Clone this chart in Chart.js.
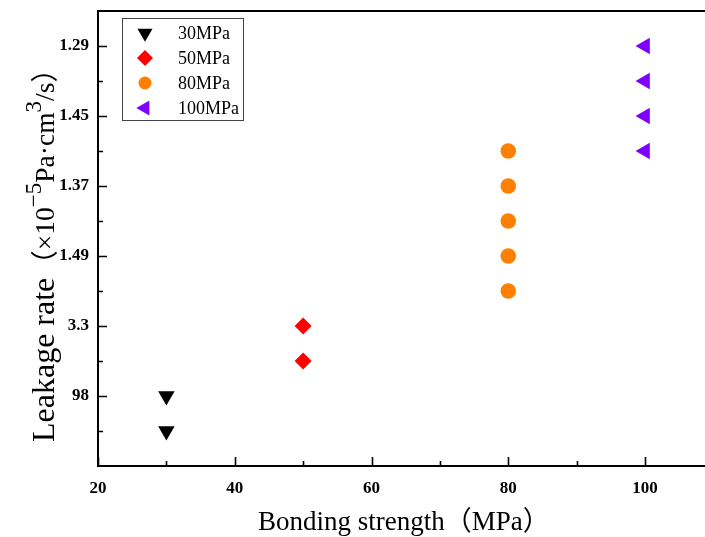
<!DOCTYPE html>
<html>
<head>
<meta charset="utf-8">
<script src="https://cdn.jsdelivr.net/npm/chart.js@4.4.1/dist/chart.umd.min.js"></script>
<style>
html,body{margin:0;padding:0;background:#fff;overflow:hidden;}
#wrap{width:705px;height:537px;position:relative;}
canvas{display:block;}
</style>
</head>
<body>
<div id="wrap"><canvas id="c" width="705" height="537"></canvas></div>
<script>
// ---- data ----
const seriesNames = ['30MPa', '50MPa', '80MPa', '100MPa'];
const strength30 = [30, 30];
const leak30 = [1.0, 0.5];
const strength50 = [50, 50];
const leak50 = [2.0, 1.5];
const strength80 = [80, 80, 80, 80, 80];
const leak80 = [4.5, 4.0, 3.5, 3.0, 2.5];
const strength100 = [100, 100, 100, 100];
const leak100 = [6.0, 5.5, 5.0, 4.5];
const xTickValues = [20, 40, 60, 80, 100];
const xMinorTicks = [30, 50, 70, 90];
const yTickValues = [1, 2, 3, 4, 5, 6];
const yTickLabels = ['98', '3.3', '1.49', '1.37', '1.45', '1.29'];
const yMinorTicks = [0.5, 1.5, 2.5, 3.5, 4.5, 5.5];

const colors = ['#000000', '#ff0000', '#ff8000', '#8000ff'];
const styles = [
  {pointStyle: 'triangle', rotation: 180, radius: 9.5, legendRadius: 8.7},
  {pointStyle: 'rectRot', rotation: 0, radius: 8.5, legendRadius: 8},
  {pointStyle: 'circle', rotation: 0, radius: 7.8, legendRadius: 6.5},
  {pointStyle: 'triangle', rotation: 270, radius: 9.5, legendRadius: 8.7}
];
const xs = [strength30, strength50, strength80, strength100];
const ys = [leak30, leak50, leak80, leak100];

const SERIF = "'Liberation Serif', 'Times New Roman', 'Noto Sans CJK SC', serif";

const datasets = seriesNames.map((name, i) => ({
  label: name,
  data: xs[i].map((x, j) => ({x: x, y: ys[i][j]})),
  showLine: false,
  pointStyle: styles[i].pointStyle,
  rotation: styles[i].rotation,
  pointRadius: styles[i].radius,
  pointHoverRadius: styles[i].radius,
  backgroundColor: colors[i],
  borderColor: colors[i],
  pointBorderWidth: 0
}));

function zeroPad(s) {
  s.paddingTop = 0; s.paddingBottom = 0; s.paddingLeft = 0; s.paddingRight = 0;
}

const decoPlugin = {
  id: 'deco',
  afterDraw(chart) {
    const ctx = chart.ctx;
    const ca = chart.chartArea;
    const xs_ = chart.scales.x, ys_ = chart.scales.y;
    ctx.save();
    ctx.strokeStyle = '#000';
    // top border
    ctx.lineWidth = 2;
    ctx.beginPath();
    ctx.moveTo(ca.left - 1, ca.top);
    ctx.lineTo(ca.right, ca.top);
    ctx.stroke();
    // inward ticks
    ctx.lineWidth = 1.6;
    ctx.beginPath();
    xTickValues.forEach(v => {
      const px = Math.round(xs_.getPixelForValue(v)) + 0.5;
      ctx.moveTo(px, ca.bottom); ctx.lineTo(px, ca.bottom - 9);
    });
    xMinorTicks.forEach(v => {
      const px = Math.round(xs_.getPixelForValue(v)) + 0.5;
      ctx.moveTo(px, ca.bottom); ctx.lineTo(px, ca.bottom - 5);
    });
    yTickValues.forEach(v => {
      const py = Math.round(ys_.getPixelForValue(v)) + 0.5;
      ctx.moveTo(ca.left, py); ctx.lineTo(ca.left + 9, py);
    });
    yMinorTicks.forEach(v => {
      const py = Math.round(ys_.getPixelForValue(v)) + 0.5;
      ctx.moveTo(ca.left, py); ctx.lineTo(ca.left + 5, py);
    });
    ctx.stroke();

    // x title
    ctx.fillStyle = '#000';
    ctx.font = '27px ' + SERIF;
    ctx.textAlign = 'left';
    ctx.textBaseline = 'alphabetic';
    ctx.fillText('Bonding strength（MPa）', ca.left + 160, ca.bottom + 64);

    // y title with superscripts
    const segs = [
      {t: 'Leakage rate', f: '32px ' + SERIF, dy: 0},
      {t: '（×10', f: '27.5px ' + SERIF, dy: 0},
      {t: '−5', f: '23px ' + SERIF, dy: -13},
      {t: 'Pa·cm', f: '27.5px ' + SERIF, dy: 0},
      {t: '3', f: '23px ' + SERIF, dy: -13},
      {t: '/s）', f: '27.5px ' + SERIF, dy: 0}
    ];
    ctx.save();
    ctx.translate(54, ca.bottom - 24);
    ctx.rotate(-Math.PI / 2);
    ctx.textAlign = 'left';
    let cx = 0;
    segs.forEach(s => {
      ctx.font = s.f;
      ctx.fillText(s.t, cx, s.dy);
      cx += ctx.measureText(s.t).width;
    });
    ctx.restore();

    // legend
    const bx = ca.left + 24, by = ca.top + 7, bw = 121, bh = 102;
    ctx.fillStyle = '#fff';
    ctx.fillRect(bx, by, bw, bh);
    ctx.lineWidth = 1;
    ctx.strokeStyle = '#444';
    ctx.strokeRect(bx + 0.5, by + 0.5, bw, bh);
    ctx.font = '18px ' + SERIF;
    ctx.textAlign = 'left';
    ctx.textBaseline = 'middle';
    seriesNames.forEach((name, i) => {
      const ry = by + 15 + i * 25;
      ctx.fillStyle = colors[i];
      ctx.strokeStyle = colors[i];
      Chart.helpers.drawPoint(ctx, {pointStyle: styles[i].pointStyle, rotation: styles[i].rotation, radius: styles[i].legendRadius, borderWidth: 0}, bx + 23, ry);
      ctx.fillStyle = '#000';
      ctx.fillText(name, bx + 56, ry + 1);
    });
    ctx.restore();
  }
};

new Chart(document.getElementById('c'), {
  type: 'scatter',
  data: {datasets: datasets},
  options: {
    responsive: false,
    animation: false,
    events: [],
    layout: {autoPadding: false, padding: {top: 11, left: 0, right: 0, bottom: 0}},
    plugins: {legend: {display: false}, tooltip: {enabled: false}, title: {display: false}},
    scales: {
      x: {
        type: 'linear',
        min: 20,
        max: 108.77,
        afterBuildTicks: s => { s.ticks = xTickValues.map(v => ({value: v})); },
        afterFit: s => { s.height = 71; zeroPad(s); },
        grid: {drawOnChartArea: false, drawTicks: false},
        border: {display: true, color: '#000', width: 2},
        ticks: {
          font: {family: SERIF, size: 17, weight: 'bold'},
          color: '#000',
          padding: 12,
          maxRotation: 0,
          autoSkip: false
        },
        title: {display: false}
      },
      y: {
        type: 'linear',
        min: 0,
        max: 6.5,
        afterBuildTicks: s => { s.ticks = yTickValues.map(v => ({value: v})); },
        afterFit: s => { s.width = 98; zeroPad(s); },
        grid: {drawOnChartArea: false, drawTicks: false},
        border: {display: true, color: '#000', width: 2},
        ticks: {
          font: {family: SERIF, size: 17, weight: 'bold'},
          color: '#000',
          padding: 9,
          autoSkip: false,
          callback: v => { const i = yTickValues.indexOf(v); return i >= 0 ? yTickLabels[i] : ''; }
        },
        title: {display: false}
      }
    }
  },
  plugins: [decoPlugin]
});
</script>
</body>
</html>
